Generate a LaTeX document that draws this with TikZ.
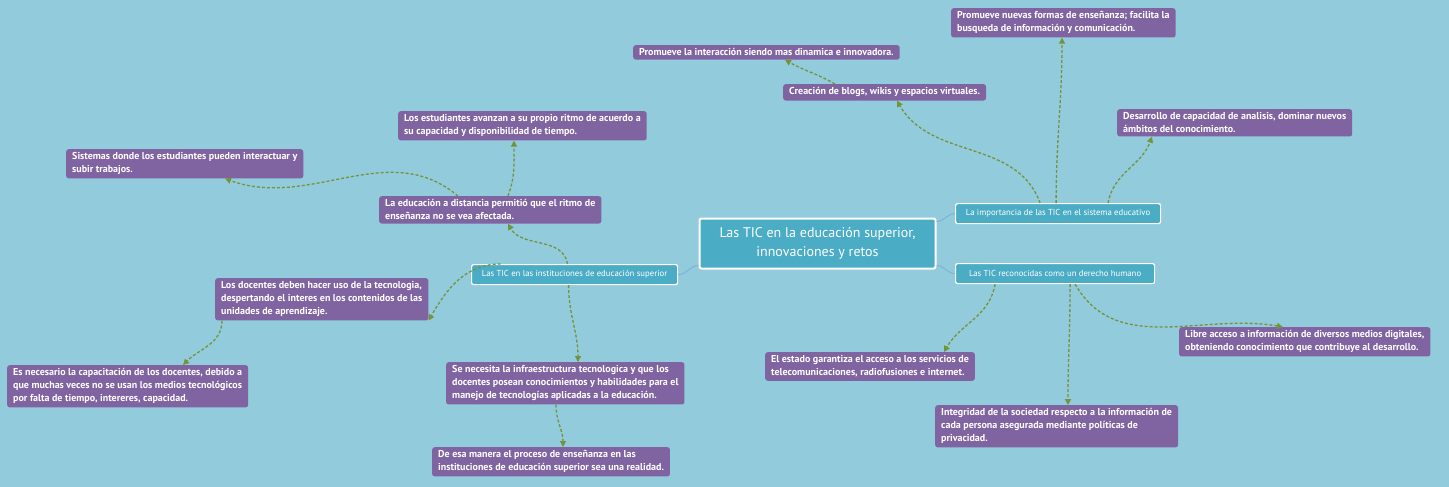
\documentclass[tikz,border=0pt]{standalone}
\usepackage{fontspec}
\setmainfont{PT Sans}
\usetikzlibrary{arrows.meta}
\definecolor{bg}{HTML}{92CBDC}
\definecolor{pur}{HTML}{8064A2}
\definecolor{teal}{HTML}{4BACC6}
\definecolor{oli}{HTML}{76923C}
\definecolor{lnk}{HTML}{7FB3D9}
\begin{document}
\begin{tikzpicture}[x=1pt,y=-1pt,
 pbox/.style={fill=pur,rounded corners=2.5pt,text=white,align=left,inner xsep=6pt,inner ysep=3.5pt,
   font=\fontsize{10}{13}\selectfont\bfseries,anchor=north west},
 tbox/.style={fill=teal,draw=white,line width=1.2pt,rounded corners=2pt,text=white,
   font=\fontsize{8.7}{11}\selectfont,anchor=north west,minimum height=20pt,inner xsep=6pt},
 arr/.style={draw=oli,line width=1.3pt,dash pattern=on 3pt off 2pt,-{Triangle[length=6pt,width=6pt]}},
 lk/.style={draw=lnk,line width=1pt}]
\fill[bg] (0,0) rectangle (1449,487);
\useasboundingbox (0,0) rectangle (1449,487);
% central
\node[fill=teal,draw=white,line width=2pt,rounded corners=2pt,text=white,align=center,
  font=\fontsize{14}{19}\selectfont,minimum width=236pt,minimum height=50pt] (c) at (817.5,243.5)
  {Las TIC en la educación superior,\\innovaciones y retos};
\node[tbox,minimum width=205pt] (imp) at (955,203) {La importancia de las TIC en el sistema educativo};
\node[tbox,minimum width=199pt] (rec) at (955,263) {Las TIC reconocidas como un derecho humano};
\node[tbox,minimum width=206pt] (ins) at (471,264) {Las TIC en las instituciones de educación superior};
% purple
\node[pbox] (p1) at (951,8) {Promueve nuevas formas de enseñanza; facilita la\\busqueda de información y comunicación.};
\node[pbox] (p2) at (633,45) {Promueve la interacción siendo mas dinamica e innovadora.};
\node[pbox] (p3) at (783,84) {Creación de blogs, wikis y espacios virtuales.};
\node[pbox] (p4) at (1117,109) {Desarrollo de capacidad de analisis, dominar nuevos\\ámbitos del conocimiento.};
\node[pbox] (p5) at (398,111) {Los estudiantes avanzan a su propio ritmo de acuerdo a\\su capacidad y disponibilidad de tiempo.};
\node[pbox] (p6) at (66,149) {Sistemas donde los estudiantes pueden interactuar y\\subir trabajos.};
\node[pbox] (p7) at (379,196) {La educación a distancia permitió que el ritmo de\\enseñanza no se vea afectada.};
\node[pbox] (p8) at (215,278) {Los docentes deben hacer uso de la tecnologia,\\despertando el interes en los contenidos de las\\unidades de aprendizaje.};
\node[pbox] (p9) at (7,365) {Es necesario la capacitación de los docentes, debido a\\que muchas veces no se usan los medios tecnológicos\\por falta de tiempo, intereres, capacidad.};
\node[pbox] (p10) at (446,362) {Se necesita la infraestructura tecnologica y que los\\docentes posean conocimientos y habilidades para el\\manejo de tecnologías aplicadas a la educación.};
\node[pbox] (p11) at (432,447) {De esa manera el proceso de enseñanza en las\\instituciones de educación superior sea una realidad.};
\node[pbox] (p12) at (765,352) {El estado garantiza el acceso a los servicios de\\telecomunicaciones, radiofusiones e internet.};
\node[pbox] (p13) at (935,405) {Integridad de la sociedad respecto a la información de\\cada persona asegurada mediante políticas de\\privacidad.};
\node[pbox] (p14) at (1179,327) {Libre acceso a información de diversos medios digitales,\\obteniendo conocimiento que contribuye al desarrollo.};
% links
\draw[lk] (c.east) ++(0,-22) to[out=0,in=180] (imp.west);
\draw[lk] (c.east) ++(0,22) to[out=0,in=180] (rec.west);
\draw[lk] (c.west) ++(0,22) to[out=180,in=0] (ins.east);
% arrows
\draw[arr] ([xshift=-18pt]imp.north) to[out=110,in=-60] ([xshift=114pt]p3.south west);
\draw[arr] ([xshift=-2pt]imp.north) to[out=90,in=-90] ([xshift=111pt]p1.south west);
\draw[arr] ([xshift=50pt]imp.north) to[out=80,in=-110] ([xshift=35pt]p4.south west);
\draw[arr] ([xshift=52pt]p3.north west) to[out=150,in=-30] ([xshift=152pt]p2.south west);
\draw[arr] ([xshift=20pt]rec.south) to[out=-60,in=170] ([xshift=104pt]p14.north west);
\draw[arr] ([xshift=-60pt]rec.south) to[out=-100,in=60] ([xshift=179pt]p12.north west);
\draw[arr] ([xshift=15pt]rec.south) to[out=-90,in=90] ([xshift=133pt]p13.north west);
\draw[arr] ([xshift=-7pt]ins.north) to[out=100,in=-60] ([xshift=129pt]p7.south west);
\draw[arr] ([xshift=-74pt]ins.north) to[out=180,in=60] (p8.south east);
\draw[arr] ([xshift=-6pt]ins.south) to[out=-90,in=90] ([xshift=132pt]p10.north west);
\draw[arr] ([xshift=79pt]p7.north west) to[out=140,in=-20] ([xshift=159pt]p6.south west);
\draw[arr] ([xshift=129pt]p7.north west) to[out=70,in=-90] ([xshift=116pt]p5.south west);
\draw[arr] ([xshift=7pt]p8.south west) to[out=-90,in=45] ([xshift=176pt]p9.north west);
\draw[arr] ([xshift=110pt]p10.south west) to[out=-90,in=90] ([xshift=131pt]p11.north west);
\end{tikzpicture}
\end{document}
